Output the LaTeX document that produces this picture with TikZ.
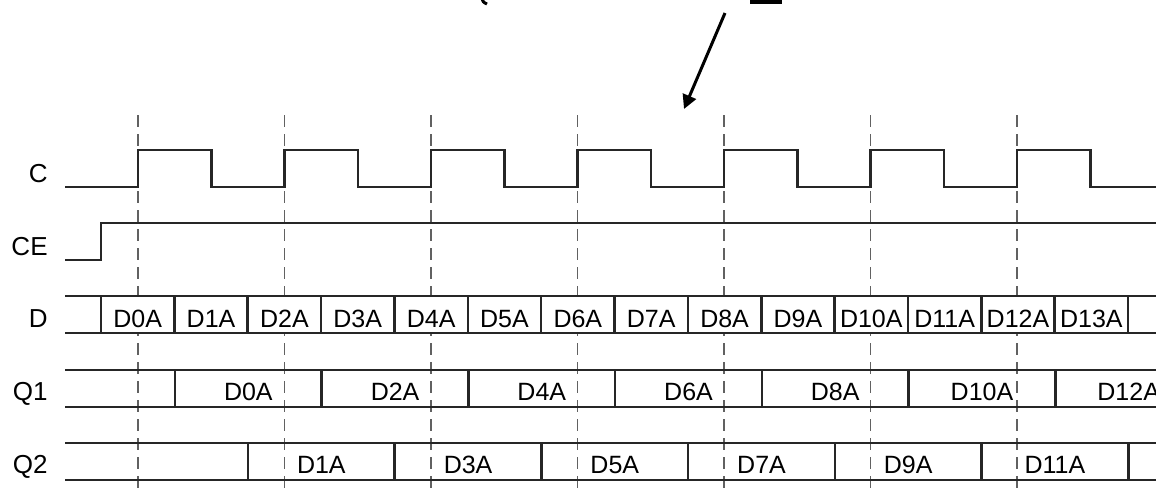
\documentclass[tikz,border=0pt]{standalone}
\usepackage{fontspec}
\setmainfont{Liberation Sans}
\usetikzlibrary{arrows.meta}
\tikzset{
  wave/.style={line width=1.25pt,color=black!85},
  clkedge/.style={dash pattern=on 6pt off 3.5pt,line width=0.8pt,color=black!62},
  signame/.style={anchor=base east,inner sep=0pt,font=\fontsize{13}{15}\selectfont},
  cell/.style={anchor=base,inner sep=0pt,font=\fontsize{12.5}{14}\selectfont},
}
\begin{document}
\begin{tikzpicture}[x=0.5pt,y=-0.5pt]
\useasboundingbox (0,0) rectangle (1156,489);
\foreach \k in {0,...,6}
  \draw[clkedge] (138+146.5*\k,115) -- (138+146.5*\k,489) ;
\fill (750,-2) rectangle (782,4) ;
\draw[line width=1.5pt] (482,-2) .. controls (483,2) .. (487,4) ;
\coordinate (from) at (725,13) ;
\coordinate (to) at (684,109) ;
\draw[line width=1.5pt,-{Triangle[length=7pt,width=7pt]}] (from) -- (to) ;
\foreach \y/\l/\n in {182/C/nc, 255/CE/nce, 327/D/nd, 400/Q1/nq1, 473/Q2/nq2}
  \node[signame] (\n) at (48,\y) {\l} ;
\draw[wave] (65,187) \foreach \k in {0,...,6} {
  -- (138+146.5*\k,187) -- ++(0,-37) -- ++(73.25,0) -- ++(0,37) } -- (1156,187) ;
\draw[wave] (65,260) -- (101,260) -- (101,223) -- (1156,223) ;
\fill[white] (65,296) rectangle (1156,333) ;
\foreach \t in {296,333,370,407,443,480}
  \draw[wave] (65,\t) -- (1156,\t) ;
\foreach \j in {0,...,14}
  \draw[wave] (101+73.36*\j,296) -- ++(0,37) ;
\foreach \j in {0,...,13}
  \node[cell] (d\j) at (137.68+73.36*\j,327) {D\j A} ;
\foreach \k in {0,...,6} {
  \draw[wave] (175+146.72*\k,370) -- ++(0,37) ;
  \draw[wave] (248+146.72*\k,443) -- ++(0,37) ;
}
\foreach \k/\l in {0/D0A, 1/D2A, 2/D4A, 3/D6A, 4/D8A, 5/D10A, 6/D12A}
  \node[cell] (qa\k) at (248.36+146.72*\k,400) {\l} ;
\foreach \k/\l in {0/D1A, 1/D3A, 2/D5A, 3/D7A, 4/D9A, 5/D11A}
  \node[cell] (qb\k) at (321.36+146.72*\k,473) {\l} ;
\end{tikzpicture}
\end{document}
